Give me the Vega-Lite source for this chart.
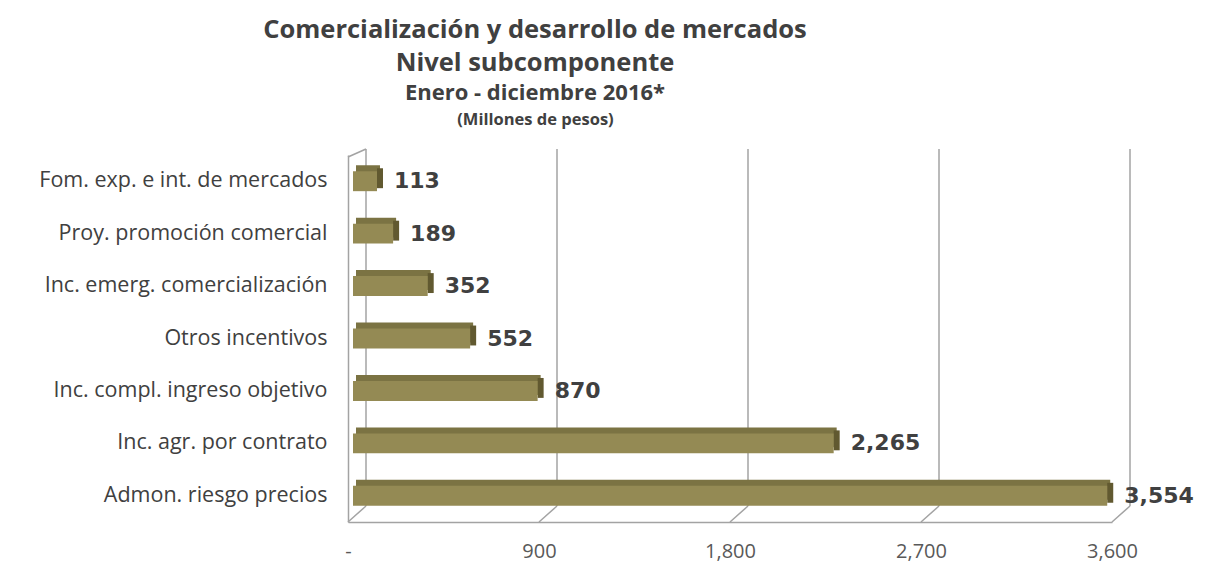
{
  "$schema": "https://vega.github.io/schema/vega-lite/v6.json",
  "autosize": {"type": "none"},
  "width": 764,
  "height": 367,
  "padding": {"left": 348, "top": 155, "right": 97, "bottom": 53},
  "background": "white",
  "config": {
    "view": {"stroke": null},
    "font": "Open Sans"
  },
  "title": {
    "text": ["Comercialización y desarrollo de mercados", "Nivel subcomponente"],
    "subtitle": ["Enero - diciembre 2016*"],
    "anchor": "middle",
    "dx": -195,
    "font": "Open Sans",
    "fontSize": 25.5,
    "fontWeight": "bold",
    "color": "#404040",
    "lineHeight": 33,
    "subtitleFont": "Open Sans",
    "subtitleFontSize": 22,
    "subtitleFontWeight": "bold",
    "subtitleColor": "#404040",
    "subtitlePadding": 7,
    "offset": 7
  },
  "resolve": {"scale": {"y": "independent"}},
  "layer": [
    {
      "data": {"values": [{"v": 0}, {"v": 900}, {"v": 1800}, {"v": 2700}, {"v": 3600}]},
      "encoding": {
        "x": {"field": "v", "type": "quantitative", "scale": {"domain": [0, 3600], "nice": false}},
        "y": {"datum": 1, "type": "quantitative", "scale": {"domain": [0, 1]}, "axis": null}
      },
      "layer": [
        {
          "mark": {"type": "rule", "color": "#A3A3A3", "strokeWidth": 1.5, "xOffset": 18, "yOffset": -6, "y2Offset": -16},
          "encoding": {"y2": {"datum": 0}}
        },
        {
          "mark": {"type": "rule", "color": "#A3A3A3", "strokeWidth": 1.5, "x2Offset": 18, "y2Offset": -16},
          "encoding": {"x2": {"field": "v"}, "y": {"datum": 0, "type": "quantitative"}, "y2": {"datum": 0}}
        },
        {
          "transform": [{"filter": "datum.v == 0"}],
          "mark": {"type": "rule", "color": "#A3A3A3", "strokeWidth": 1.5, "yOffset": 2, "x2Offset": 18, "y2Offset": -6},
          "encoding": {"x2": {"field": "v"}, "y2": {"datum": 1}}
        }
      ]
    },
    {
      "data": {"values": [
        {"subcomponente": "Fom. exp. e int. de mercados", "monto": 113},
        {"subcomponente": "Proy. promoción comercial", "monto": 189},
        {"subcomponente": "Inc. emerg. comercialización", "monto": 352},
        {"subcomponente": "Otros incentivos", "monto": 552},
        {"subcomponente": "Inc. compl. ingreso objetivo", "monto": 870},
        {"subcomponente": "Inc. agr. por contrato", "monto": 2265},
        {"subcomponente": "Admon. riesgo precios", "monto": 3554}
      ]},
      "encoding": {
        "y": {
          "field": "subcomponente", "type": "nominal",
          "sort": {"field": "monto", "order": "ascending"},
          "scale": {"paddingInner": 0.62, "paddingOuter": 0.31},
          "axis": {
            "title": "(Millones de pesos)",
            "titleAngle": 0,
            "titleX": 187,
            "titleY": -36,
            "titleAlign": "center",
            "titleBaseline": "middle",
            "titleFont": "Open Sans",
            "titleFontSize": 16.5,
            "titleFontWeight": "bold",
            "titleColor": "#404040",
            "domainColor": "#A3A3A3",
            "domainWidth": 1.5,
            "ticks": false,
            "labelPadding": 21,
            "labelFont": "Open Sans",
            "labelFontSize": 21.5,
            "labelColor": "#404040",
            "labelLimit": 400
          }
        },
        "x": {
          "field": "monto", "type": "quantitative",
          "scale": {"domain": [0, 3600], "nice": false},
          "axis": {
            "title": null,
            "values": [0, 900, 1800, 2700, 3600],
            "labelExpr": "datum.value == 0 ? '-' : format(datum.value, ',')",
            "grid": false,
            "ticks": false,
            "domainColor": "#A3A3A3",
            "domainWidth": 1.5,
            "labelPadding": 19,
            "labelFont": "Open Sans",
            "labelFontSize": 20,
            "labelColor": "#595959",
            "labelFlush": false
          }
        }
      },
      "layer": [
        {"mark": {"type": "bar", "color": "#7B7343", "xOffset": 8, "x2Offset": 8, "yOffset": -6}},
        {"mark": {"type": "bar", "color": "#615930", "xOffset": 5, "x2Offset": 11, "yOffset": -3}, "encoding": {"x2": {"field": "monto"}}},
        {"mark": {"type": "bar", "color": "#948A54", "xOffset": 5, "x2Offset": 5}},
        {
          "mark": {"type": "text", "align": "left", "baseline": "middle", "dx": 22, "font": "DejaVu Sans", "fontWeight": "bold", "fontSize": 22, "color": "#404040"},
          "encoding": {"text": {"field": "monto", "type": "quantitative", "format": ","}}
        }
      ]
    }
  ]
}
